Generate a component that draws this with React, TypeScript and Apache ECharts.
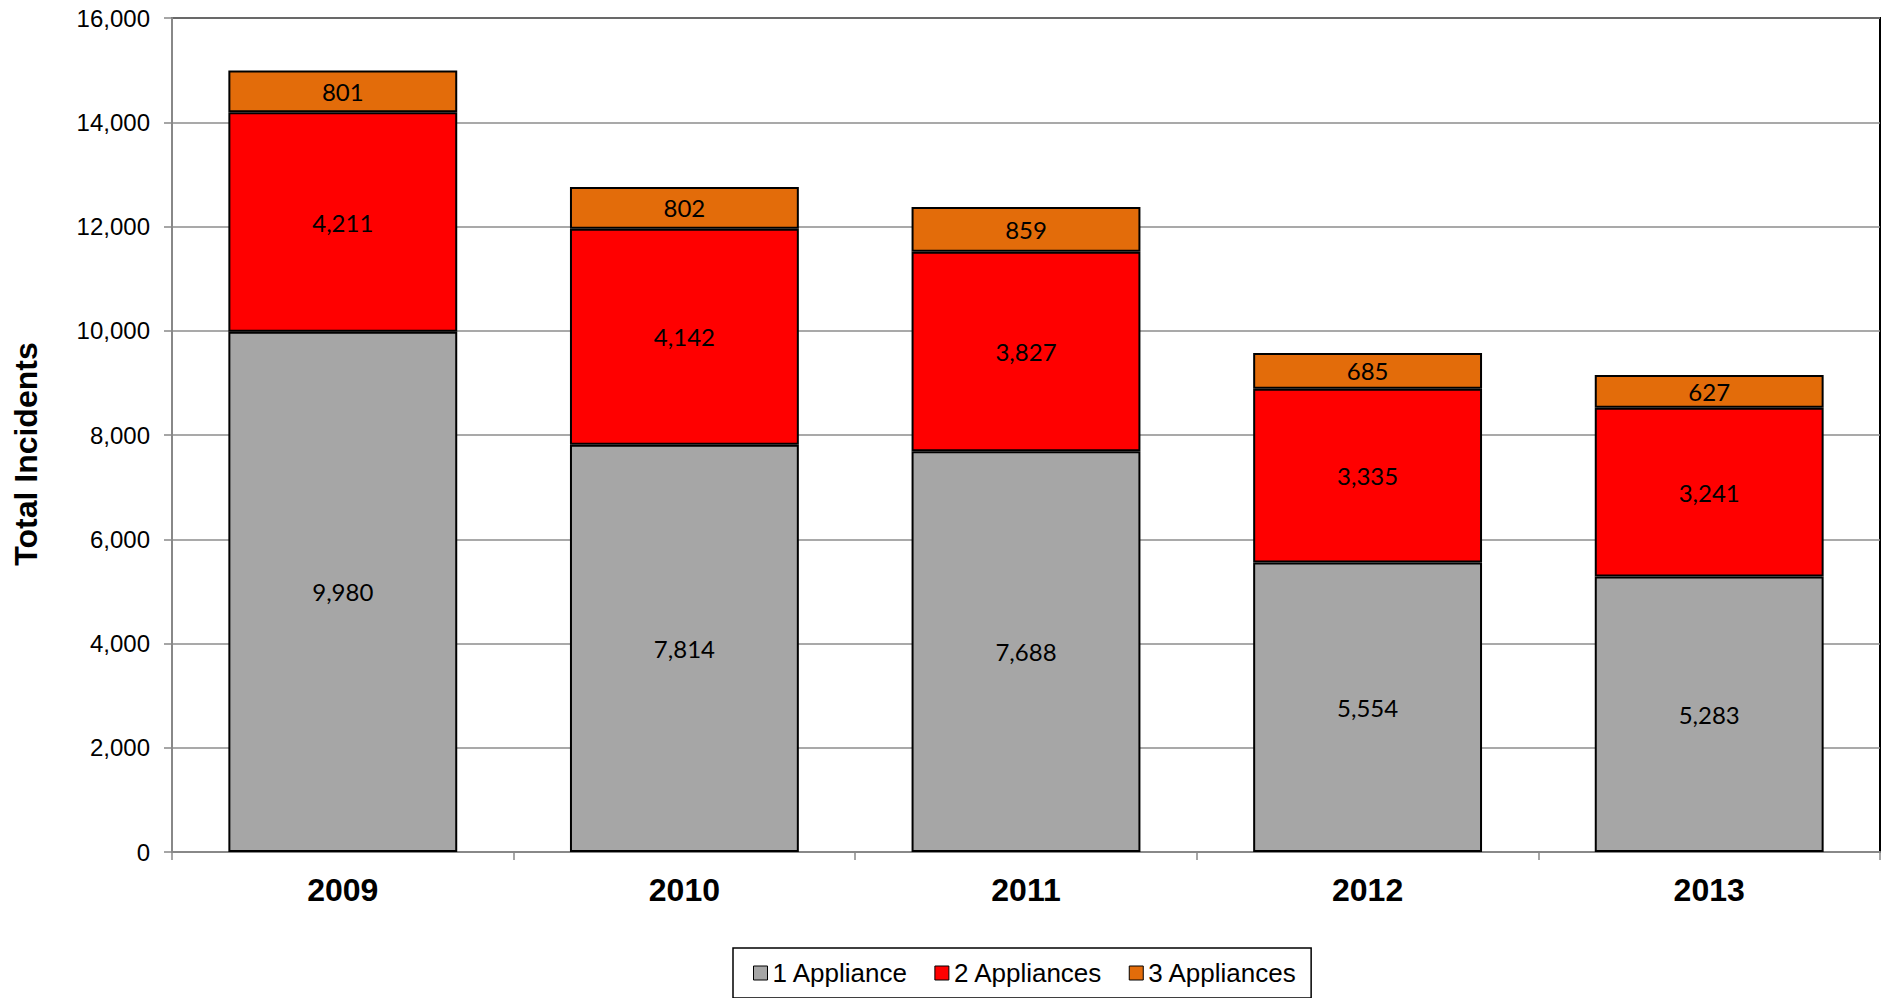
import React, { useEffect, useRef } from "react";
import * as echarts from "echarts";

const years = ["2009", "2010", "2011", "2012", "2013"];
const oneAppliance = [9980, 7814, 7688, 5554, 5283];
const twoAppliances = [4211, 4142, 3827, 3335, 3241];
const threeAppliances = [801, 802, 859, 685, 627];
const seriesNames = ["1 Appliance", "2 Appliances", "3 Appliances"];
const seriesColors = ["#A6A6A6", "#FF0000", "#E36C0A"];
const yTicks = { min: 0, max: 16000, interval: 2000 };

const fmt = (v: number) => v.toLocaleString("en-US");

export default function App() {
  const ref = useRef<HTMLDivElement>(null);
  useEffect(() => {
    document.body.style.margin = "0";
    if (!ref.current) return;
    const chart = echarts.init(ref.current, null, { renderer: "svg" });
    const datasets = [oneAppliance, twoAppliances, threeAppliances];
    chart.setOption({
      animation: false,
      backgroundColor: "#ffffff",
      grid: {
        left: 172,
        right: 9,
        top: 18,
        bottom: 146,
        show: true,
        borderColor: "#000000",
        borderWidth: 2,
      },
      legend: {
        top: 948,
        left: 733,
        data: seriesNames,
        icon: "rect",
        itemWidth: 14,
        itemHeight: 14,
        itemGap: 26,
        padding: [11, 14, 11, 20],
        borderColor: "#000000",
        borderWidth: 1.5,
        itemStyle: { borderColor: "#000000", borderWidth: 1 },
        textStyle: {
          fontFamily: "Liberation Sans, Arial, sans-serif",
          fontSize: 26,
          color: "#000000",
          lineHeight: 28,
        },
      },
      xAxis: {
        type: "category",
        data: years,
        axisLine: { lineStyle: { color: "#888888", width: 2 } },
        axisTick: { show: true, length: 8, lineStyle: { color: "#888888", width: 1.5 } },
        axisLabel: {
          fontFamily: "Liberation Sans, Arial, sans-serif",
          fontWeight: "bold",
          fontSize: 32,
          color: "#000000",
          margin: 22,
        },
      },
      yAxis: {
        type: "value",
        min: yTicks.min,
        max: yTicks.max,
        interval: yTicks.interval,
        name: "Total Incidents",
        nameLocation: "middle",
        nameGap: 130,
        nameTextStyle: {
          fontFamily: "Liberation Sans, Arial, sans-serif",
          fontWeight: "bold",
          fontSize: 32,
          color: "#000000",
          padding: [0, 38, 0, 0],
        },
        axisLine: { show: true, lineStyle: { color: "#888888", width: 2 } },
        axisTick: { show: true, length: 8, lineStyle: { color: "#888888", width: 1.5 } },
        splitLine: { lineStyle: { color: "#8C8C8C", width: 1.5 } },
        axisLabel: {
          fontFamily: "Liberation Sans, Arial, sans-serif",
          fontSize: 24,
          color: "#000000",
          margin: 22,
          formatter: (v: number) => fmt(v),
        },
      },
      series: seriesNames.map((name, i) => ({
        name,
        type: "bar",
        stack: "total",
        barWidth: "67%",
        data: datasets[i],
        itemStyle: { color: seriesColors[i], borderColor: "#000000", borderWidth: 2 },
        label: {
          show: true,
          position: "inside",
          fontFamily: "Lato, Calibri, sans-serif",
          fontSize: 24,
          color: "#000000",
          formatter: (p: any) => fmt(p.value),
        },
      })),
    });
    return () => chart.dispose();
  }, []);
  return (
    <div
      ref={ref}
      style={{ position: "fixed", left: 0, top: 0, width: 1889, height: 998 }}
    />
  );
}
